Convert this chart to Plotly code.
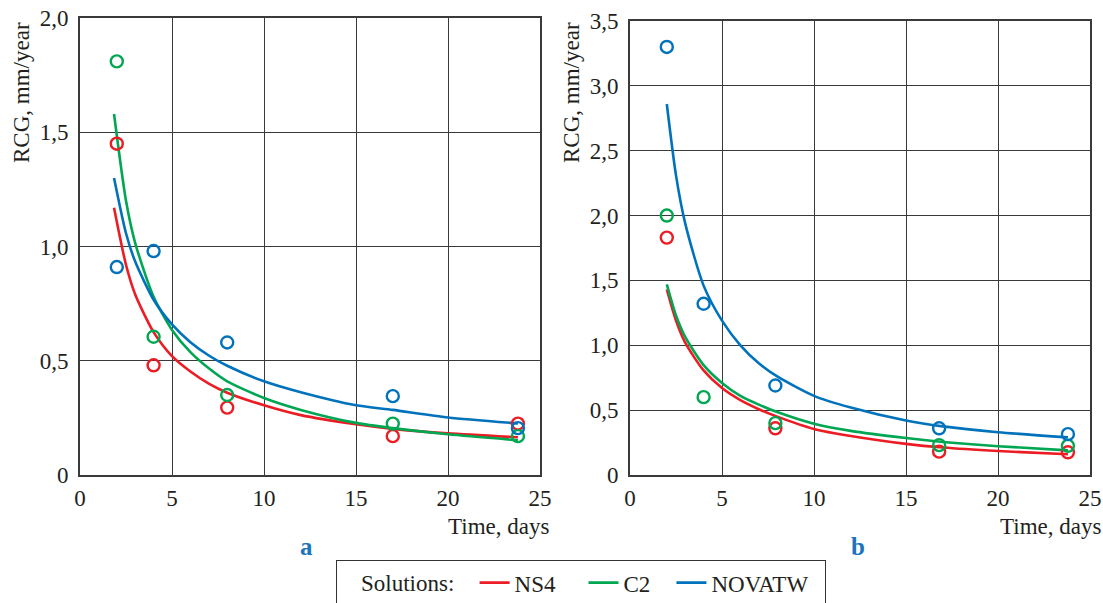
import plotly.graph_objects as go

# ---------------- data ----------------
series_names = ["NS4", "C2", "NOVATW"]
series_colors = ["#EC1C24", "#00A651", "#0072BC"]

# panel a : measured points
days_a = [2, 4, 8, 17, 23.8]
ns4_a = [1.45, 0.48, 0.295, 0.17, 0.225]
c2_a = [1.81, 0.605, 0.35, 0.225, 0.17]
novatw_a = [0.91, 0.98, 0.58, 0.345, 0.205]

# panel a : fitted trend curves
curve_x_a = [1.85, 2.5, 3, 4, 5, 6, 7, 8, 10, 12, 15, 17, 20, 23.8]
ns4_fit_a = [1.17, 0.92, 0.79, 0.625, 0.52, 0.453, 0.40, 0.36, 0.305, 0.262, 0.222, 0.202, 0.182, 0.165]
c2_fit_a = [1.58, 1.20, 1.015, 0.78, 0.635, 0.538, 0.467, 0.41, 0.337, 0.285, 0.228, 0.205, 0.178, 0.152]
novatw_fit_a = [1.30, 1.058, 0.934, 0.767, 0.659, 0.581, 0.523, 0.478, 0.41, 0.362, 0.305, 0.285, 0.252, 0.226]

# panel b : measured points
days_b = [2, 4, 7.9, 16.8, 23.8]
ns4_b = [1.83, None, 0.36, 0.18, 0.175]
c2_b = [2.0, 0.60, 0.40, 0.23, 0.225]
novatw_b = [3.30, 1.32, 0.69, 0.36, 0.315]

# panel b : fitted trend curves
curve_x_b = [2, 2.5, 3, 4, 5, 6, 7, 8, 10, 12, 15, 17, 20, 23.8]
ns4_fit_b = [1.43, 1.19, 1.02, 0.806, 0.67, 0.577, 0.507, 0.45, 0.355, 0.30, 0.24, 0.212, 0.185, 0.16]
c2_fit_b = [1.47, 1.23, 1.065, 0.847, 0.71, 0.61, 0.543, 0.485, 0.395, 0.34, 0.285, 0.255, 0.222, 0.19]
novatw_fit_b = [2.86, 2.31, 1.94, 1.46, 1.19, 1.0, 0.862, 0.76, 0.61, 0.52, 0.42, 0.375, 0.33, 0.29]

x_ticks = [0, 5, 10, 15, 20, 25]
x_tick_text = ["0", "5", "10", "15", "20", "25"]
y_ticks_a = [0, 0.5, 1.0, 1.5, 2.0]
y_tick_text_a = ["0", "0,5", "1,0", "1,5", "2,0"]
y_ticks_b = [0, 0.5, 1.0, 1.5, 2.0, 2.5, 3.0, 3.5]
y_tick_text_b = ["0", "0,5", "1,0", "1,5", "2,0", "2,5", "3,0", "3,5"]

y_title = "RCG, mm/year"
x_title = "Time, days"
panel_labels = ["a", "b"]
legend_title = "Solutions:"

# ---------------- figure ----------------
W, H = 1103, 603
FONT = "Liberation Serif, Times New Roman, serif"
GRID = "#3a3a3a"
TXT = "#231f20"
FS = 23
# spacing after each legend entry text (legend layout only)
entry_pads = ["\u2003", "\u2002\u2009", "\u2002"]

fig = go.Figure()

panels = [
    ("x", "y", curve_x_a, [ns4_fit_a, c2_fit_a, novatw_fit_a], days_a, [ns4_a, c2_a, novatw_a]),
    ("x2", "y2", curve_x_b, [ns4_fit_b, c2_fit_b, novatw_fit_b], days_b, [ns4_b, c2_b, novatw_b]),
]

for p, (xa, ya, cx, fits, dx, pts) in enumerate(panels):
    for i, name in enumerate(series_names):
        fig.add_trace(go.Scatter(
            x=cx, y=fits[i], mode="lines", name=name + entry_pads[i],
            line=dict(color=series_colors[i], width=2.6, shape="spline", smoothing=0.7),
            xaxis=xa, yaxis=ya, showlegend=(p == 0), legendgroup=name,
        ))
    for i, name in enumerate(series_names):
        fig.add_trace(go.Scatter(
            x=dx, y=pts[i], mode="markers", name=name,
            marker=dict(symbol="circle-open", size=12, color=series_colors[i],
                        line=dict(width=2.4, color=series_colors[i])),
            xaxis=xa, yaxis=ya, showlegend=False, legendgroup=name,
        ))

def px_x(v):
    return v / W

def px_y(v):
    return 1 - v / H

axis_common = dict(
    showgrid=True, gridcolor=GRID, gridwidth=1.3,
    showline=True, linecolor=GRID, linewidth=1.6, mirror=True,
    zeroline=False, ticks="", tickfont=dict(family=FONT, size=FS, color=TXT),
    tickmode="array", fixedrange=True, automargin=False,
)

fig.update_layout(
    width=W, height=H,
    margin=dict(l=0, r=0, t=0, b=0, autoexpand=False),
    paper_bgcolor="white", plot_bgcolor="white",
    font=dict(family=FONT, size=FS, color=TXT),
    xaxis=dict(domain=[px_x(80), px_x(540)], range=[0, 25], tickvals=x_ticks,
               ticktext=x_tick_text, anchor="y", ticklabelstandoff=2, **axis_common),
    yaxis=dict(domain=[px_y(475), px_y(18)], range=[0, 2.0], tickvals=y_ticks_a,
               ticktext=y_tick_text_a, anchor="x", ticklabelstandoff=5, **axis_common),
    xaxis2=dict(domain=[px_x(630), px_x(1090)], range=[0, 25], tickvals=x_ticks,
                ticktext=x_tick_text, anchor="y2", ticklabelstandoff=2, **axis_common),
    yaxis2=dict(domain=[px_y(475), px_y(21)], range=[0, 3.5], tickvals=y_ticks_b,
                ticktext=y_tick_text_b, anchor="x2", ticklabelstandoff=5, **axis_common),
    legend=dict(
        orientation="h", x=px_x(581), xanchor="center", y=px_y(560), yanchor="top",
        bordercolor="#333", borderwidth=1.2, bgcolor="white",
        font=dict(family=FONT, size=FS, color=TXT),
        title=dict(text="\u2009 \u2002" + legend_title + "\u2002\u200a", side="left",
                   font=dict(family=FONT, size=FS, color=TXT)),
        itemwidth=30, tracegroupgap=0,
    ),
    showlegend=True,
)

annotations = [
    dict(text=y_title, x=px_x(22), y=px_y(93), textangle=-90),
    dict(text=y_title, x=px_x(572), y=px_y(93), textangle=-90),
    dict(text=x_title, x=px_x(551), y=px_y(526), xanchor="right"),
    dict(text=x_title, x=px_x(1103), y=px_y(526), xanchor="right"),
    dict(text="<b>" + panel_labels[0] + "</b>", x=px_x(306), y=px_y(546),
         font=dict(family=FONT, size=25, color="#1B75BB")),
    dict(text="<b>" + panel_labels[1] + "</b>", x=px_x(858), y=px_y(546),
         font=dict(family=FONT, size=25, color="#1B75BB")),
]
for a in annotations:
    a.setdefault("xanchor", "center")
    a.setdefault("font", dict(family=FONT, size=FS, color=TXT))
    fig.add_annotation(xref="paper", yref="paper", yanchor="middle", showarrow=False, **a)

fig.write_html("out.html")
